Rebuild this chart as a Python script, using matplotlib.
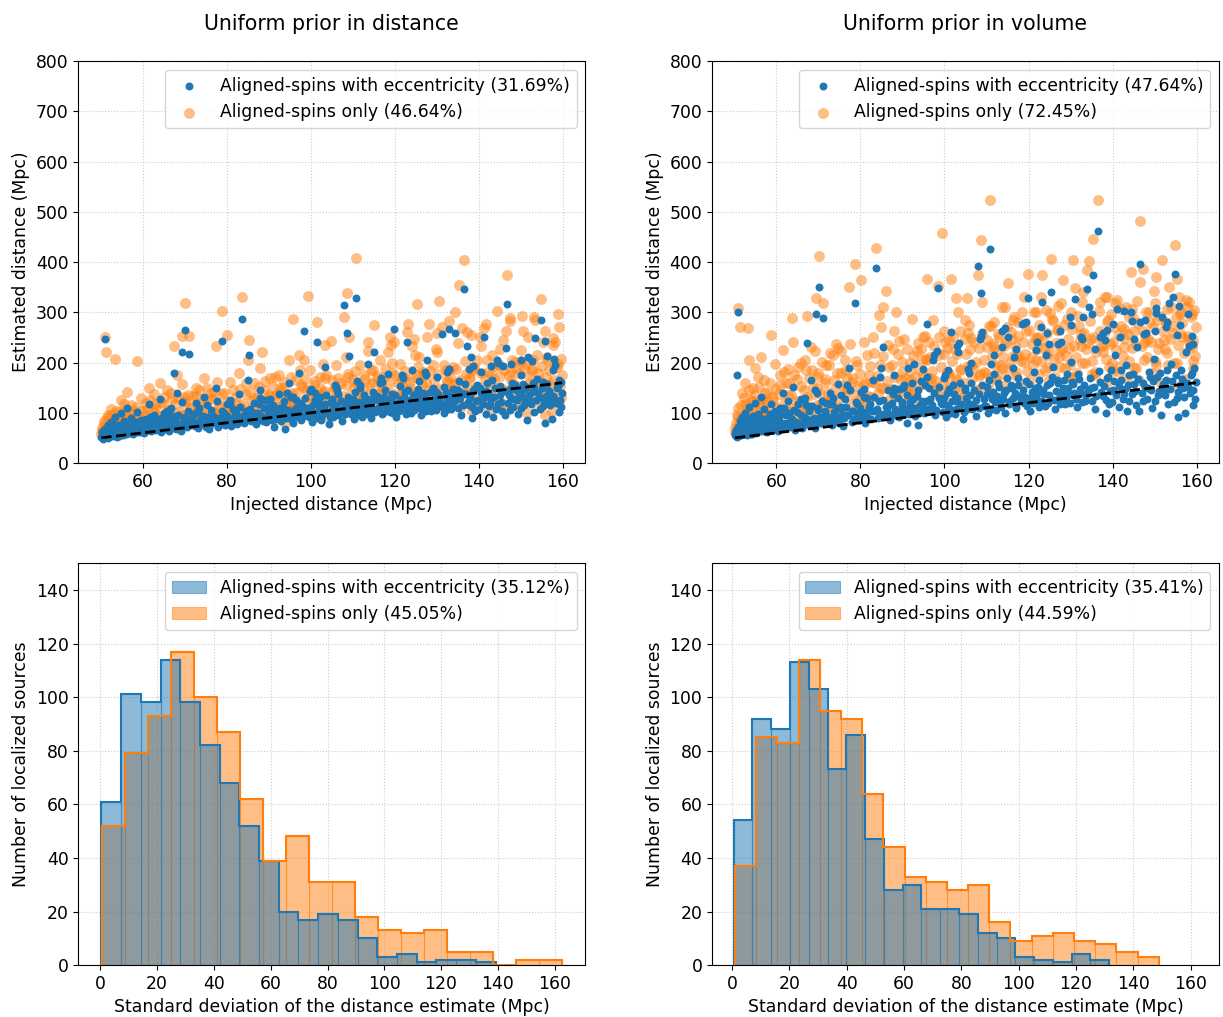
import matplotlib
matplotlib.use("Agg")
import matplotlib.pyplot as plt
import numpy as np

plt.rcParams['font.size'] = 12.4

# injected distance (Mpc) and estimated distances (Mpc)
# columns: injected, ecc (dist prior), aligned (dist prior), ecc (vol prior), aligned (vol prior)
rows = [
    (50.2, 52, 58, 55, 62), (50.4, 61, 70, 66, 80), (50.6, 48, 55, 52, 58), (50.7, 57, 66, 175, 95),
    (50.9, 66, 84, 72, 110), (51.0, 247, 250, 300, 308), (51.2, 54, 62, 60, 72), (51.3, 70, 221, 84, 271),
    (51.5, 59, 73, 63, 90), (51.7, 50, 59, 56, 66), (51.9, 75, 96, 92, 140), (52.1, 62, 68, 68, 84),
    (52.3, 53, 61, 58, 70), (52.5, 81, 108, 99, 160), (52.7, 58, 75, 62, 98), (52.9, 64, 88, 78, 118),
    (53.1, 55, 64, 60, 76), (53.3, 71, 82, 85, 268), (53.5, 92, 208, 112, 205), (53.7, 60, 70, 66, 88),
    (53.9, 52, 58, 57, 67), (54.1, 68, 94, 74, 126), (54.4, 76, 101, 94, 150), (54.6, 57, 66, 63, 82),
    (54.9, 99, 125, 120, 190), (55.1, 62, 78, 70, 104), (55.3, 55, 63, 59, 74), (55.6, 84, 118, 98, 172),
    (55.8, 65, 86, 80, 115), (56.1, 58, 70, 64, 92), (56.4, 110, 142, 132, 210), (56.6, 70, 92, 76, 128),
    (56.9, 60, 68, 67, 85), (57.2, 90, 115, 108, 165), (57.4, 66, 82, 72, 106), (57.7, 58, 64, 62, 78),
    (58.0, 78, 104, 90, 140), (58.3, 63, 75, 70, 98), (58.7, 101, 203, 118, 255), (59.0, 72, 96, 85, 132),
    (59.3, 61, 70, 66, 89), (59.7, 85, 130, 104, 198), (60.0, 68, 80, 74, 112), (60.4, 60, 73, 64, 95),
    (60.8, 88, 120, 110, 176), (61.2, 67, 78, 75, 108), (61.6, 117, 150, 140, 224), (62.0, 63, 74, 69, 99),
    (62.4, 79, 106, 95, 160), (62.8, 95, 138, 123, 188), (63.2, 66, 77, 72, 104), (63.7, 72, 96, 88, 289),
    (64.1, 128, 160, 152, 240), (64.5, 61, 70, 66, 90), (64.9, 85, 118, 102, 168), (65.3, 70, 88, 80, 122),
    (65.8, 104, 146, 128, 200), (66.2, 64, 74, 70, 96), (66.6, 77, 99, 92, 145), (67.0, 93, 128, 115, 185),
    (67.4, 179, 233, 238, 293), (67.9, 68, 79, 75, 108), (68.3, 140, 175, 165, 230), (68.7, 74, 102, 88, 152),
    (69.1, 63, 72, 69, 94), (69.5, 221, 253, 297, 328), (69.9, 88, 120, 106, 172), (70.2, 265, 318, 350, 411),
    (70.6, 71, 84, 80, 118), (71.1, 217, 253, 288, 318), (71.5, 82, 110, 98, 160), (71.9, 97, 134, 120, 196),
    (72.4, 74, 88, 82, 124), (72.8, 119, 150, 140, 218), (73.2, 69, 80, 76, 104), (73.7, 86, 118, 102, 166),
    (74.1, 77, 98, 90, 237), (74.6, 131, 170, 158, 228), (75.0, 72, 85, 80, 112), (75.5, 92, 128, 112, 180),
    (75.9, 68, 78, 74, 100), (76.4, 105, 140, 128, 205), (76.8, 80, 102, 95, 150), (77.4, 150, 233, 190, 351),
    (77.9, 72, 86, 82, 118), (78.3, 88, 115, 104, 170), (78.8, 243, 302, 319, 397), (79.3, 99, 140, 118, 196),
    (79.7, 76, 90, 85, 126), (80.2, 118, 255, 142, 364), (80.6, 83, 104, 98, 158), (81.1, 73, 85, 80, 116),
    (81.6, 108, 146, 130, 215), (82.0, 95, 120, 112, 175), (82.5, 78, 92, 88, 132), (83.0, 137, 180, 165, 250),
    (83.4, 88, 112, 104, 160), (83.7, 287, 330, 389, 428), (84.2, 80, 94, 90, 140), (84.5, 103, 138, 124, 295),
    (85.0, 165, 205, 190, 270), (85.3, 215, 245, 230, 310), (85.7, 84, 100, 96, 150), (86.1, 94, 124, 112, 342),
    (86.6, 120, 160, 146, 235), (87.0, 78, 90, 86, 128), (87.5, 99, 132, 120, 195), (88.0, 145, 190, 176, 262),
    (88.4, 87, 220, 104, 300), (88.9, 110, 146, 130, 216), (89.3, 82, 96, 92, 140), (89.8, 96, 126, 115, 182),
    (90.3, 128, 170, 155, 246), (90.7, 85, 102, 98, 150), (91.2, 72, 86, 80, 120), (91.7, 101, 136, 122, 200),
    (92.1, 90, 112, 106, 166), (92.4, 138, 175, 160, 286), (92.9, 84, 98, 94, 142), (93.4, 112, 150, 134, 222),
    (93.8, 68, 80, 75, 112), (94.3, 96, 128, 116, 185), (94.8, 160, 205, 188, 251), (95.2, 88, 106, 100, 158),
    (95.6, 104, 140, 124, 208), (95.9, 79, 287, 277, 367), (96.4, 125, 165, 150, 240), (96.9, 92, 112, 108, 170),
    (97.3, 180, 215, 205, 285), (97.8, 86, 100, 96, 146), (98.4, 263, 206, 349, 352), (98.8, 109, 146, 130, 214),
    (99.4, 96, 332, 118, 458), (99.8, 143, 185, 170, 262), (100.3, 82, 96, 92, 140), (100.7, 118, 156, 140, 228),
    (101.2, 95, 116, 110, 178), (101.6, 241, 281, 260, 366), (102.1, 131, 172, 156, 250), (102.5, 86, 102, 98, 150),
    (102.8, 104, 140, 124, 328), (103.3, 192, 235, 220, 300), (103.8, 99, 122, 116, 186), (104.3, 78, 92, 88, 132),
    (104.8, 121, 243, 146, 285), (105.2, 110, 146, 130, 216), (105.4, 92, 118, 108, 328), (105.9, 152, 196, 180, 275),
    (106.4, 137, 170, 160, 248), (106.9, 101, 124, 118, 190), (107.4, 84, 98, 94, 146), (107.9, 314, 291, 393, 374),
    (108.3, 116, 155, 138, 228), (108.6, 258, 339, 338, 444), (109.0, 212, 250, 260, 320), (109.5, 97, 120, 114, 182),
    (110.0, 128, 168, 152, 245), (110.4, 88, 104, 100, 156), (110.8, 329, 408, 426, 523), (111.3, 108, 142, 128, 212),
    (111.8, 150, 195, 178, 280), (112.3, 92, 110, 106, 168), (112.7, 135, 176, 160, 256), (113.2, 103, 126, 120, 196),
    (113.7, 198, 240, 230, 310), (114.1, 118, 158, 140, 232), (114.4, 89, 104, 100, 311), (114.9, 142, 186, 170, 270),
    (115.1, 221, 275, 250, 359), (115.6, 107, 130, 124, 200), (116.0, 126, 168, 150, 246), (116.4, 160, 205, 190, 285),
    (116.9, 97, 114, 110, 174), (117.4, 131, 172, 156, 252), (117.8, 114, 140, 134, 212), (118.4, 178, 220, 277, 300),
    (118.9, 102, 251, 120, 330), (119.3, 138, 180, 164, 262), (119.9, 266, 240, 329, 377), (120.3, 92, 108, 104, 165),
    (120.8, 120, 160, 142, 236), (121.2, 154, 198, 182, 301), (121.7, 109, 132, 126, 206), (122.2, 129, 170, 152, 250),
    (122.6, 98, 116, 112, 178), (122.9, 241, 260, 270, 330), (123.2, 146, 276, 321, 375), (123.7, 117, 150, 138, 228),
    (124.2, 185, 232, 215, 305), (124.6, 106, 124, 120, 192), (125.2, 134, 176, 160, 298), (125.3, 120, 317, 340, 406),
    (125.8, 163, 210, 192, 282), (126.3, 95, 112, 108, 172), (126.8, 139, 182, 166, 264), (127.2, 112, 136, 130, 210),
    (127.7, 205, 250, 240, 318), (128.1, 126, 277, 150, 364), (128.6, 103, 122, 118, 190), (129.1, 150, 196, 178, 286),
    (129.6, 118, 145, 138, 228), (130.1, 172, 220, 202, 300), (130.6, 132, 323, 158, 404), (131.1, 257, 270, 326, 348),
    (131.6, 99, 116, 112, 180), (132.1, 141, 186, 168, 272), (132.5, 120, 148, 140, 232), (132.9, 266, 282, 290, 340),
    (133.4, 108, 128, 124, 200), (133.9, 148, 192, 346, 384), (134.4, 258, 301, 311, 402), (134.8, 127, 160, 150, 246),
    (135.3, 164, 354, 374, 446), (135.8, 96, 112, 108, 176), (136.4, 346, 405, 462, 523), (136.9, 137, 178, 162, 262),
    (137.1, 232, 260, 250, 320), (137.6, 115, 140, 134, 220), (138.1, 210, 255, 245, 330), (138.3, 90, 104, 100, 158),
    (138.6, 143, 186, 170, 280), (139.1, 104, 122, 118, 192), (139.6, 156, 205, 186, 296), (140.1, 125, 152, 146, 240),
    (140.6, 181, 232, 215, 318), (141.1, 251, 268, 306, 324), (141.6, 98, 116, 112, 182), (142.1, 140, 182, 166, 272),
    (142.6, 118, 146, 138, 230), (143.1, 166, 214, 196, 311), (143.4, 92, 110, 104, 170), (143.6, 131, 168, 156, 256),
    (144.0, 108, 128, 124, 204), (144.3, 205, 303, 301, 381), (144.8, 150, 196, 178, 288), (145.3, 122, 150, 144, 236),
    (145.8, 193, 245, 230, 322), (146.2, 95, 108, 104, 165), (146.4, 229, 262, 280, 361), (146.6, 317, 374, 397, 482),
    (147.1, 136, 176, 160, 262), (147.3, 105, 288, 124, 387), (147.9, 160, 205, 258, 300), (148.4, 128, 156, 150, 246),
    (148.9, 145, 190, 172, 280), (149.4, 98, 114, 110, 180), (149.9, 176, 225, 208, 342), (150.3, 134, 293, 298, 371),
    (150.8, 116, 142, 136, 226), (151.2, 152, 198, 180, 292), (151.5, 85, 100, 96, 160), (151.7, 210, 250, 291, 404),
    (152.2, 124, 160, 148, 244), (152.7, 141, 184, 166, 276), (153.1, 102, 122, 118, 195), (153.4, 248, 285, 318, 350),
    (153.9, 168, 215, 198, 310), (154.4, 131, 166, 330, 258), (154.8, 285, 327, 377, 434), (155.3, 113, 136, 130, 367),
    (155.6, 80, 96, 92, 150), (155.8, 243, 262, 312, 330), (156.3, 157, 205, 186, 300), (156.8, 127, 158, 150, 250),
    (157.3, 88, 104, 100, 168), (157.5, 186, 248, 220, 324), (157.6, 133, 235, 160, 311), (158.1, 196, 240, 232, 320),
    (158.6, 149, 192, 176, 290), (159.0, 101, 120, 116, 190), (159.4, 162, 208, 190, 305), (159.8, 139, 176, 162, 270),
    # dense band
    (50.3, 56, 64, 60, 70), (50.5, 50, 53, 54, 60), (50.8, 63, 78, 70, 92), (51.1, 58, 66, 62, 78),
    (51.4, 52, 57, 55, 64), (51.6, 67, 90, 77, 115), (51.8, 56, 62, 59, 70), (52.0, 60, 72, 65, 86),
    (52.2, 54, 59, 57, 66), (52.4, 70, 96, 82, 130), (52.6, 57, 64, 61, 74), (52.8, 62, 80, 68, 100),
    (53.0, 53, 60, 56, 68), (53.2, 66, 86, 74, 112), (53.4, 58, 66, 62, 78), (53.6, 75, 104, 90, 145),
    (53.8, 56, 63, 60, 72), (54.0, 61, 76, 67, 96), (54.3, 54, 60, 58, 70), (54.5, 69, 90, 80, 124),
    (54.8, 60, 68, 64, 82), (55.0, 72, 94, 86, 136), (55.2, 57, 64, 61, 76), (55.5, 64, 80, 72, 104),
    (55.7, 58, 66, 63, 80), (56.0, 77, 108, 92, 152), (56.2, 61, 72, 66, 90), (56.5, 59, 66, 63, 78),
    (56.8, 68, 88, 78, 118), (57.0, 62, 74, 68, 96), (57.3, 74, 100, 88, 140), (57.6, 60, 68, 65, 84),
    (57.9, 69, 88, 80, 122), (58.2, 63, 72, 68, 92), (58.5, 82, 112, 98, 160), (58.9, 61, 70, 66, 88),
    (59.2, 70, 88, 82, 124), (59.5, 64, 75, 70, 98), (59.9, 78, 104, 92, 148), (60.2, 64, 74, 70, 96),
    (60.6, 74, 96, 86, 138), (61.0, 80, 108, 96, 155), (61.4, 65, 76, 72, 100), (61.8, 92, 126, 110, 182),
    (62.2, 70, 86, 80, 122), (62.6, 66, 78, 74, 104), (63.0, 84, 110, 100, 160), (63.4, 75, 94, 86, 136),
    (63.9, 68, 80, 76, 108), (64.3, 90, 122, 106, 176), (64.7, 72, 86, 82, 124), (65.1, 100, 132, 118, 192),
    (65.6, 68, 80, 76, 110), (66.0, 82, 106, 96, 154), (66.4, 72, 84, 80, 118), (66.8, 110, 140, 130, 205),
    (67.2, 76, 92, 88, 132), (67.7, 88, 118, 104, 170), (68.1, 70, 82, 78, 112), (68.5, 96, 130, 114, 186),
    (68.9, 78, 96, 90, 138), (69.3, 122, 158, 145, 222), (69.7, 72, 84, 80, 116), (70.0, 92, 124, 110, 180),
    (70.4, 80, 98, 92, 140), (70.9, 104, 136, 124, 202), (71.3, 75, 88, 84, 124), (71.7, 88, 114, 104, 168),
    (72.2, 80, 96, 92, 140), (72.6, 100, 134, 118, 196), (73.0, 76, 88, 84, 126), (73.5, 110, 146, 130, 214),
    (73.9, 82, 100, 94, 148), (74.4, 94, 124, 110, 180), (74.8, 78, 90, 86, 130), (75.3, 115, 150, 136, 222),
    (75.7, 86, 106, 98, 156), (76.2, 80, 94, 90, 136), (76.6, 96, 128, 112, 186), (77.1, 84, 100, 96, 148),
    (77.6, 124, 162, 146, 236), (78.1, 90, 110, 104, 162), (78.5, 80, 94, 88, 136), (79.0, 104, 138, 122, 204),
    (79.5, 86, 104, 98, 154), (80.0, 94, 122, 110, 178), (80.4, 82, 96, 92, 140), (80.9, 126, 162, 148, 240),
    (81.4, 88, 108, 102, 160), (81.8, 80, 92, 90, 134), (82.3, 100, 132, 118, 194), (82.8, 90, 108, 104, 162),
    (83.2, 112, 148, 132, 218), (84.0, 94, 118, 108, 174), (84.8, 86, 100, 98, 150), (85.5, 108, 142, 126, 212),
    (86.3, 90, 110, 104, 164), (86.8, 100, 130, 116, 192), (87.3, 86, 100, 96, 148), (87.8, 118, 152, 138, 226),
    (88.2, 94, 116, 108, 172), (88.7, 84, 98, 94, 144), (89.1, 126, 164, 148, 242), (89.6, 92, 112, 106, 166),
    (90.0, 104, 136, 122, 202), (90.5, 94, 114, 108, 170), (91.0, 116, 152, 136, 226), (91.5, 88, 102, 98, 152),
    (91.9, 98, 124, 114, 184), (92.6, 110, 142, 128, 212), (93.1, 96, 116, 110, 172), (93.6, 124, 162, 146, 238),
    (94.0, 90, 104, 100, 156), (94.6, 106, 138, 124, 206), (95.0, 98, 118, 112, 176), (95.4, 132, 172, 156, 252),
    (96.1, 96, 114, 108, 170), (96.6, 110, 140, 128, 210), (97.1, 100, 122, 116, 184), (97.6, 120, 156, 140, 232),
    (98.1, 94, 110, 106, 164), (98.6, 130, 168, 152, 250), (99.1, 104, 128, 120, 192), (99.6, 92, 106, 102, 158),
    (100.0, 112, 144, 130, 216), (100.5, 100, 122, 116, 182), (101.0, 126, 164, 148, 244), (101.4, 90, 104, 100, 156),
    (101.9, 106, 136, 124, 204), (102.3, 118, 150, 138, 226), (102.7, 96, 112, 108, 168), (103.1, 112, 144, 130, 216),
    (103.6, 136, 176, 160, 262), (104.0, 102, 124, 118, 188), (104.6, 92, 106, 102, 160), (105.0, 128, 166, 150, 246),
    (105.6, 104, 128, 120, 194), (106.1, 116, 150, 136, 226), (106.6, 96, 112, 108, 170), (107.1, 124, 160, 146, 240),
    (107.6, 108, 134, 126, 202), (108.1, 98, 114, 110, 174), (108.9, 132, 172, 156, 256), (109.3, 110, 136, 128, 206),
    (109.8, 100, 118, 114, 180), (110.2, 118, 152, 138, 230), (110.6, 142, 184, 166, 272), (111.1, 96, 112, 108, 172),
    (111.5, 122, 158, 142, 236), (112.0, 106, 128, 122, 196), (112.5, 116, 148, 134, 222), (113.0, 130, 168, 152, 250),
    (113.5, 98, 116, 112, 178), (113.9, 110, 138, 128, 210), (114.6, 124, 160, 146, 240), (115.3, 102, 122, 118, 188),
    (115.8, 134, 174, 156, 260), (116.2, 112, 138, 130, 212), (116.7, 120, 154, 140, 232), (117.1, 100, 118, 114, 182),
    (117.6, 146, 188, 170, 280), (118.1, 108, 132, 126, 204), (118.6, 124, 160, 146, 240), (119.1, 114, 140, 132, 216),
    (119.6, 100, 118, 114, 184), (120.1, 136, 176, 158, 264), (120.6, 112, 136, 130, 210), (121.0, 104, 124, 120, 196),
    (121.5, 128, 166, 150, 248), (121.9, 118, 146, 138, 226), (122.4, 142, 184, 166, 274), (123.0, 108, 130, 124, 204),
    (123.5, 126, 162, 146, 242), (123.9, 100, 118, 114, 186), (124.4, 134, 172, 156, 258), (124.8, 116, 142, 136, 222),
    (125.5, 148, 192, 172, 286), (126.0, 110, 132, 126, 208), (126.5, 124, 158, 144, 238), (127.0, 136, 176, 160, 264),
    (127.5, 104, 122, 118, 192), (127.9, 118, 146, 138, 228), (128.4, 142, 184, 166, 274), (128.9, 112, 134, 128, 212),
    (129.3, 128, 164, 150, 246), (129.8, 106, 124, 120, 196), (130.3, 138, 178, 162, 266), (130.8, 120, 148, 140, 232),
    (131.3, 112, 132, 128, 210), (131.8, 152, 196, 178, 292), (132.3, 128, 162, 148, 244), (132.7, 108, 126, 122, 200),
    (133.2, 134, 172, 156, 258), (133.7, 118, 144, 136, 226), (134.1, 124, 158, 144, 238), (134.6, 146, 188, 170, 282),
    (135.1, 110, 128, 124, 204), (135.6, 130, 166, 152, 250), (136.1, 116, 140, 134, 220), (136.7, 158, 204, 184, 302),
    (137.3, 122, 150, 142, 234), (137.9, 132, 170, 154, 256), (138.4, 112, 130, 126, 208), (138.9, 148, 190, 172, 284),
    (139.4, 124, 152, 144, 236), (139.9, 108, 126, 122, 200), (140.4, 140, 180, 164, 270), (140.9, 118, 142, 136, 224),
    (141.4, 132, 168, 154, 254), (141.9, 160, 206, 186, 306), (142.4, 114, 134, 128, 212), (142.9, 128, 162, 148, 246),
    (143.8, 150, 194, 176, 290), (144.5, 118, 144, 138, 228), (145.0, 136, 174, 158, 262), (145.5, 104, 120, 116, 190),
    (146.0, 144, 186, 168, 278), (146.9, 120, 146, 140, 232), (147.6, 130, 166, 152, 252), (148.1, 112, 132, 128, 210),
    (148.6, 156, 202, 182, 300), (149.1, 126, 154, 146, 240), (149.6, 140, 180, 164, 270), (150.1, 110, 128, 124, 204),
    (150.6, 148, 190, 172, 284), (151.0, 124, 152, 144, 238), (151.9, 136, 174, 158, 262), (152.4, 118, 142, 136, 226),
    (152.9, 160, 206, 186, 306), (153.6, 126, 156, 148, 246), (154.1, 140, 180, 164, 272), (154.6, 108, 126, 122, 200),
    (155.0, 150, 194, 176, 290), (155.5, 122, 148, 142, 234), (156.0, 134, 172, 156, 258), (156.6, 144, 186, 168, 278),
    (157.0, 116, 138, 132, 218), (157.9, 130, 166, 152, 252), (158.4, 120, 146, 140, 232), (158.9, 154, 198, 180, 296),
    (159.2, 126, 154, 146, 242), (159.6, 112, 132, 128, 212),
    # upper part of the spread
    (90.2, 118, 132, 150, 120), (92.8, 104, 150, 198, 132), (95.8, 132, 118, 172, 205), (98.2, 112, 152, 222, 138),
    (100.9, 140, 126, 186, 180), (103.5, 118, 170, 238, 142), (106.2, 146, 132, 200, 196), (108.8, 122, 178, 252, 150),
    (111.7, 156, 140, 214, 230), (114.3, 128, 186, 268, 156), (117.0, 162, 146, 226, 212), (119.4, 134, 200, 280, 160),
    (122.0, 170, 152, 240, 248), (124.9, 138, 214, 236, 166), (127.4, 176, 160, 262, 222), (129.9, 142, 226, 290, 172),
    (132.4, 182, 166, 250, 256), (135.0, 146, 238, 296, 178), (137.7, 188, 172, 258, 232), (140.2, 150, 250, 276, 184),
    (142.8, 194, 178, 302, 266), (145.1, 154, 226, 246, 190), (147.7, 198, 184, 284, 240), (150.4, 158, 262, 308, 196),
    (152.6, 204, 190, 270, 280), (155.2, 162, 240, 254, 200), (157.8, 208, 196, 296, 244), (159.1, 166, 270, 236, 204),
    (62.9, 88, 118, 96, 136), (66.3, 96, 104, 128, 100), (69.8, 82, 132, 140, 150), (73.3, 104, 110, 118, 112),
    (76.9, 92, 142, 156, 170), (80.8, 118, 120, 132, 124), (84.6, 100, 160, 172, 196), (87.9, 130, 126, 150, 136),
    (91.4, 106, 172, 190, 144), (94.4, 140, 136, 164, 226), (97.5, 112, 186, 214, 154), (100.1, 148, 144, 176, 240),
    (102.9, 116, 198, 232, 166), (105.7, 156, 150, 188, 258), (108.4, 120, 210, 246, 178), (111.0, 164, 158, 198, 272),
    (113.6, 124, 222, 262, 190), (116.6, 170, 164, 210, 290), (119.0, 128, 234, 278, 202), (121.8, 176, 172, 224, 300),
    (124.5, 132, 246, 258, 214), (127.1, 182, 178, 236, 312), (130.0, 136, 258, 274, 170), (132.8, 188, 186, 246, 320),
    (135.9, 140, 268, 226, 182), (138.7, 194, 192, 264, 330), (141.7, 144, 276, 250, 194), (144.6, 200, 198, 282, 306),
    (147.5, 148, 282, 256, 206), (150.0, 206, 204, 262, 318), (153.0, 152, 290, 280, 218), (156.1, 212, 210, 274, 296),
    (158.8, 156, 296, 252, 230),
]

injected = [r[0] for r in rows]
est_ecc_dist = [r[1] for r in rows]
est_al_dist = [r[2] for r in rows]
est_ecc_vol = [r[3] for r in rows]
est_al_vol = [r[4] for r in rows]

# histogram bins (first/last edge, Mpc) and counts of the standard deviation
std_lo_ecc_dist, std_hi_ecc_dist = 0.35, 139.2
counts_ecc_dist = [61, 101, 98, 114, 98, 82, 68, 52, 39, 20, 17, 19, 17, 10, 3, 4, 1, 2, 2, 1]
std_lo_al_dist, std_hi_al_dist = 0.7, 162.7
counts_al_dist = [52, 79, 93, 117, 100, 87, 62, 39, 48, 31, 31, 18, 13, 12, 13, 5, 5, 0, 2, 2]
std_lo_ecc_vol, std_hi_ecc_vol = 0.58, 131.6
counts_ecc_vol = [54, 92, 88, 113, 103, 73, 86, 47, 28, 30, 21, 21, 19, 12, 10, 3, 2, 1, 4, 2]
std_lo_al_vol, std_hi_al_vol = 1.06, 148.9
counts_al_vol = [37, 85, 83, 114, 95, 92, 64, 44, 33, 31, 28, 30, 16, 9, 11, 12, 9, 8, 5, 3]

titles = ["Uniform prior in distance", "Uniform prior in volume"]
scatter_labels = [("Aligned-spins with eccentricity (31.69%)", "Aligned-spins only (46.64%)"),
                  ("Aligned-spins with eccentricity (47.64%)", "Aligned-spins only (72.45%)")]
hist_labels = [("Aligned-spins with eccentricity (35.12%)", "Aligned-spins only (45.05%)"),
               ("Aligned-spins with eccentricity (35.41%)", "Aligned-spins only (44.59%)")]


def scatterPanel(ax, y_ecc, y_al, labels, title):
    h1 = ax.scatter(injected, y_ecc, s=22, color='C0', zorder=3, label=labels[0])
    h2 = ax.scatter(injected, y_al, s=62, color='C1', alpha=0.5, linewidths=0, zorder=2, label=labels[1])
    ax.plot([min(injected), max(injected)], [min(injected), max(injected)], 'k--', lw=2, zorder=4)
    ax.set_ylim(0, 800)
    ax.set_xlabel("Injected distance (Mpc)")
    ax.set_ylabel("Estimated distance (Mpc)")
    ax.set_title(title, fontsize=14.8, pad=22)
    ax.grid(ls=':', color='#cccccc')
    ax.set_axisbelow(True)
    ax.legend(handles=[h1, h2], loc='upper right')


def histPanel(ax, lo_e, hi_e, c_e, lo_a, hi_a, c_a, labels, xlim):
    edges_e = np.linspace(lo_e, hi_e, len(c_e) + 1)
    edges_a = np.linspace(lo_a, hi_a, len(c_a) + 1)
    # orange first so the blue fill sits on top (grey overlap)
    _, _, p_a = ax.hist(edges_a[:-1], bins=edges_a, weights=c_a, color='C1', alpha=0.5, ec='C1', lw=0.8, label=labels[1])
    _, _, p_e = ax.hist(edges_e[:-1], bins=edges_e, weights=c_e, color='C0', alpha=0.5, ec='C0', lw=0.8, label=labels[0])
    ax.hist(edges_e[:-1], bins=edges_e, weights=c_e, histtype='step', color='C0', lw=1.5)
    ax.hist(edges_a[:-1], bins=edges_a, weights=c_a, histtype='step', color='C1', lw=1.5)
    ax.set_ylim(0, 150)
    ax.set_xlim(*xlim)
    ax.set_xticks(range(0, 161, 20))
    ax.set_yticks(range(0, 141, 20))
    ax.set_xlabel("Standard deviation of the distance estimate (Mpc)")
    ax.set_ylabel("Number of localized sources")
    ax.grid(ls=':', color='#cccccc')
    ax.set_axisbelow(True)
    ax.legend(handles=[p_e[0], p_a[0]], labels=list(labels), loc='upper right')


def main():
    fig, axs = plt.subplots(2, 2, figsize=(12.23, 10.17), dpi=100)
    plt.subplots_adjust(left=0.064, right=0.9967, bottom=0.051, top=0.94, wspace=0.25, hspace=0.249)

    scatterPanel(axs[0, 0], est_ecc_dist, est_al_dist, scatter_labels[0], titles[0])
    scatterPanel(axs[0, 1], est_ecc_vol, est_al_vol, scatter_labels[1], titles[1])

    histPanel(axs[1, 0], std_lo_ecc_dist, std_hi_ecc_dist, counts_ecc_dist,
              std_lo_al_dist, std_hi_al_dist, counts_al_dist, hist_labels[0], (-7.8, 170.8))
    histPanel(axs[1, 1], std_lo_ecc_vol, std_hi_ecc_vol, counts_ecc_vol,
              std_lo_al_vol, std_hi_al_vol, counts_al_vol, hist_labels[1], (-7.0, 169.9))

    fig.savefig("out.png", dpi=100)


main()
